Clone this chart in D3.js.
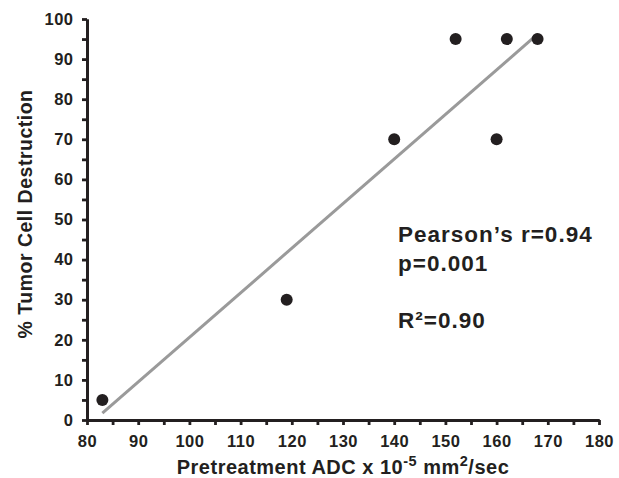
<!DOCTYPE html>
<html>
<head>
<meta charset="utf-8">
<script src="https://cdn.jsdelivr.net/npm/d3@7"></script>
<style>
  body { margin: 0; background: #fff; }
</style>
</head>
<body>
<div id="chart-area"></div>
<script>
// data
var adc = [83, 119, 140, 152, 160, 162, 168];
var destruction = [5, 30, 70, 95, 70, 95, 95];
var fitLine = [[83, 1.7], [168, 96.2]];
var xTicks = [80, 90, 100, 110, 120, 130, 140, 150, 160, 170, 180];
var yTicks = [0, 10, 20, 30, 40, 50, 60, 70, 80, 90, 100];
var xMinorTicks = [85, 95, 105, 115, 125, 135, 145, 155, 165, 175];
var yMinorTicks = [5, 15, 25, 35, 45, 55, 65, 75, 85, 95];
var stats = ["Pearson\u2019s r=0.94", "p=0.001", "", "R\u00b2=0.90"];

var FONT = "'Liberation Sans', Arial, Helvetica, sans-serif";
var INK = "#231f20";

var margin = {left: 87, top: 19};

var svg = d3.select("#chart-area").append("svg")
    .attr("width", 619)
    .attr("height", 478);

var g = svg.append("g")
    .attr("transform", "translate(" + margin.left + ", " + margin.top + ")");

var x = d3.scaleLinear().domain([80, 180]).range([0, 512]);
var y = d3.scaleLinear().domain([0, 100]).range([401, 0]);

function styleAxis(ax) {
  ax.selectAll(".domain, .tick line")
    .attr("stroke", INK)
    .attr("stroke-width", 2.8);
  ax.selectAll(".tick text")
    .attr("fill", INK)
    .attr("font-size", 16.5)
    .attr("font-weight", "bold")
    .attr("letter-spacing", 0.5)
    .attr("font-family", FONT);
}

// X axis: minor ticks, then labelled ticks
g.append("g")
  .attr("transform", "translate(0," + y(0) + ")")
  .call(d3.axisBottom(x).tickValues(xMinorTicks).tickSize(5).tickFormat(() => "").tickSizeOuter(0))
  .call(styleAxis);
g.append("g")
  .attr("transform", "translate(0," + y(0) + ")")
  .call(d3.axisBottom(x).tickValues(xTicks).tickSize(5).tickPadding(10).tickSizeOuter(0))
  .call(styleAxis);

// Y axis
g.append("g")
  .call(d3.axisLeft(y).tickValues(yMinorTicks).tickSize(5).tickFormat(() => "").tickSizeOuter(0))
  .call(styleAxis);
g.append("g")
  .call(d3.axisLeft(y).tickValues(yTicks).tickSize(5).tickPadding(8.5).tickSizeOuter(0))
  .call(styleAxis);

// regression line
g.append("line")
  .attr("x1", x(fitLine[0][0]))
  .attr("y1", y(fitLine[0][1]))
  .attr("x2", x(fitLine[1][0]))
  .attr("y2", y(fitLine[1][1]))
  .attr("stroke", "#9a9a9a")
  .attr("stroke-width", 3);

// points
g.selectAll("circle.pt")
  .data(adc)
  .enter()
  .append("circle")
    .attr("class", "pt")
    .attr("cx", d => x(d))
    .attr("cy", (d, i) => y(destruction[i]))
    .attr("r", 6)
    .attr("fill", INK);

// stats
g.selectAll("text.stat")
  .data(stats)
  .enter()
  .append("text")
    .attr("class", "stat")
    .attr("x", 311)
    .attr("y", (d, i) => 223 + i * 28.7)
    .attr("font-size", 22.5)
    .attr("letter-spacing", 1)
    .attr("font-family", FONT)
    .attr("font-weight", "bold")
    .attr("fill", INK)
    .text(d => d);

// X label
var xl = svg.append("text")
  .attr("x", 343)
  .attr("y", 474)
  .attr("text-anchor", "middle")
  .attr("font-size", 20)
  .attr("letter-spacing", 0.5)
  .attr("font-family", FONT)
  .attr("font-weight", "bold")
  .attr("fill", INK);
xl.append("tspan").text("Pretreatment ADC x 10");
xl.append("tspan").attr("font-size", 14.5).attr("dy", -8).text("-5");
xl.append("tspan").attr("dy", 8).text(" mm");
xl.append("tspan").attr("font-size", 14.5).attr("dy", -8).text("2");
xl.append("tspan").attr("dy", 8).text("/sec");

// Y label
svg.append("text")
  .attr("transform", "translate(32, 214) rotate(-90)")
  .attr("text-anchor", "middle")
  .attr("font-size", 19.5)
  .attr("letter-spacing", 0.5)
  .attr("font-family", FONT)
  .attr("font-weight", "bold")
  .attr("fill", INK)
  .text("% Tumor Cell Destruction");
</script>
</body>
</html>
